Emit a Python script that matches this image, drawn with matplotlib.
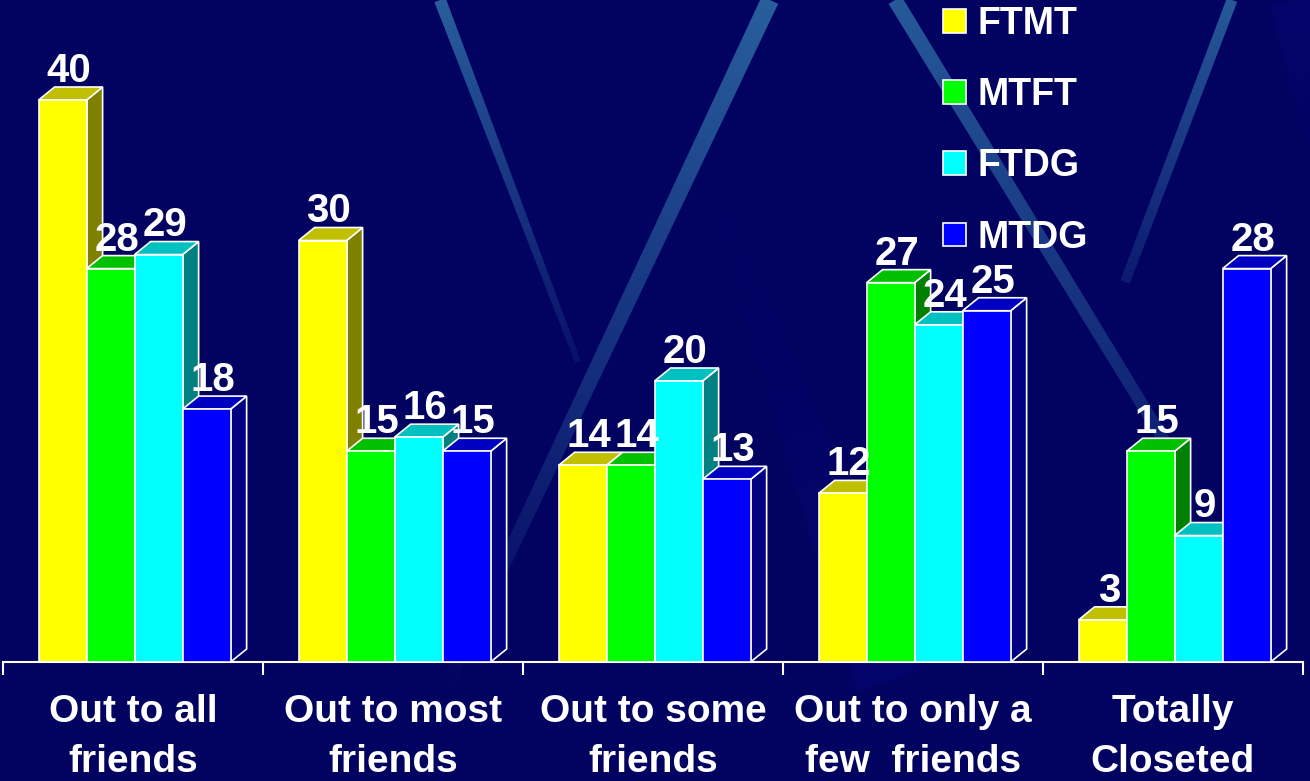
import numpy as np
import matplotlib
matplotlib.use("Agg")
import matplotlib.pyplot as plt
from matplotlib.patches import Polygon, Rectangle
from matplotlib.colors import to_rgb

# data
categories = ["Out to all\nfriends", "Out to most\nfriends", "Out to some\nfriends",
              "Out to only a\nfew  friends", "Totally\nCloseted"]
series = ["FTMT", "MTFT", "FTDG", "MTDG"]
ftmt = [40, 30, 14, 12, 3]
mtft = [28, 15, 14, 27, 15]
ftdg = [29, 16, 20, 24, 9]
mtdg = [18, 15, 13, 25, 28]
values = [ftmt, mtft, ftdg, mtdg]

front_cols = ["#ffff00", "#00ff00", "#00ffff", "#0000ff"]
top_cols = ["#c0c000", "#00c000", "#00c0c0", "#0000c0"]
side_cols = ["#808000", "#008000", "#008080", "#000080"]

W, H = 1310, 781
BG = "#020260"
plt.rcParams["font.family"] = ["Liberation Sans", "DejaVu Sans"]
plt.rcParams["font.weight"] = "bold"

fig = plt.figure(figsize=(W / 100, H / 100), dpi=100, facecolor=BG)

# background with light streaks (pixel coordinates)
bg = fig.add_axes([0, 0, 1, 1], zorder=0)
bg.set_facecolor(BG)
bg.axis("off")


def streak(p0, p1, w0, w1, a0, a1, color="#2b64a0"):
    p0 = np.array(p0, float)
    p1 = np.array(p1, float)
    d = p1 - p0
    L = np.hypot(*d)
    u = d / L
    n = np.array([-u[1], u[0]])
    quad = np.array([p0 + n * w0 / 2, p1 + n * w1 / 2, p1 - n * w1 / 2, p0 - n * w0 / 2])
    poly = Polygon(quad, closed=True, facecolor="none", edgecolor="none")
    bg.add_patch(poly)
    xmin, ymin = quad.min(axis=0) - 2
    xmax, ymax = quad.max(axis=0) + 2
    xs = np.linspace(xmin, xmax, 200)
    ys = np.linspace(ymin, ymax, 400)
    X, Y = np.meshgrid(xs, ys)
    t = np.clip(((X - p0[0]) * u[0] + (Y - p0[1]) * u[1]) / L, 0, 1)
    img = np.zeros(X.shape + (4,))
    img[..., :3] = to_rgb(color)
    img[..., 3] = a0 + (a1 - a0) * t
    im = bg.imshow(img, extent=(xmin, xmax, ymax, ymin), origin="upper",
                   aspect="auto", interpolation="bilinear")
    im.set_clip_path(poly)


# faint wide wedges
streak((690, 120), (890, 680), 10, 70, 0.0, 0.3, color="#08088a")
streak((1300, 0), (1330, 220), 60, 10, 0.3, 0.0, color="#08088a")
# bright streaks
streak((440, 0), (578, 362), 12, 6, 0.95, 0.15)
streak((770, 0), (440, 700), 18, 12, 0.95, 0.0)
streak((895, 0), (1170, 450), 15, 12, 0.9, 0.3)
streak((1232, 0), (1125, 282), 11, 10, 0.9, 0.25)
bg.set_xlim(0, W)
bg.set_ylim(H, 0)

# main chart axes
base_px = 662
px_per_unit = 14.05
ax = fig.add_axes([3 / W, (H - base_px) / H, 1300 / W, base_px / H], zorder=1)
ax.set_facecolor("none")
ax.set_xlim(0, 5)
ax.set_ylim(0, base_px / px_per_unit)

bw = 48 / 260
x_start = 0.137
dx = 16 / 260
dy = 13 / px_per_unit

z = 2
for g in range(len(categories)):
    for i in range(len(series)):
        v = values[i][g]
        x0 = g + x_start + i * bw
        side = Polygon([(x0 + bw, 0), (x0 + bw + dx, dy), (x0 + bw + dx, v + dy), (x0 + bw, v)],
                       closed=True, facecolor=side_cols[i], edgecolor="white", lw=1.2, zorder=z)
        top = Polygon([(x0, v), (x0 + bw, v), (x0 + bw + dx, v + dy), (x0 + dx, v + dy)],
                      closed=True, facecolor=top_cols[i], edgecolor="white", lw=1.2, zorder=z)
        ax.add_patch(side)
        ax.add_patch(top)
        ax.bar(x0, v, width=bw, align="edge", color=front_cols[i], edgecolor="white",
               linewidth=1.2, zorder=z + 0.5)
        ax.annotate(str(v), xy=(x0 + bw / 2, v), xytext=(4.5, 13), textcoords="offset points",
                    ha="center", va="baseline", color="white", fontsize=29,
                    fontweight="bold", zorder=50)
        z += 1

# axis line and ticks
for s in ["top", "left", "right"]:
    ax.spines[s].set_visible(False)
ax.spines["bottom"].set_color("white")
ax.spines["bottom"].set_linewidth(1.5)
ax.set_yticks([])
ax.set_xticks(range(6))
ax.set_xticklabels([])
ax.tick_params(axis="x", which="major", direction="out", length=9, width=1.5, color="white")
ax.set_xticks(np.arange(len(categories)) + 0.5, minor=True)
ax.set_xticklabels(categories, minor=True, color="white", fontsize=28,
                   fontweight="bold", linespacing=1.5)
ax.tick_params(axis="x", which="minor", length=0, pad=23)

# legend
handles = [Rectangle((0, 0), 1, 1, facecolor=c, edgecolor="white", lw=1.2) for c in front_cols]
leg = fig.legend(handles, series, loc="upper left", bbox_to_anchor=(943 / W, 1 - 6 / H),
                 frameon=False, fontsize=27, labelcolor="white", handlelength=0.6,
                 handleheight=0.6, handletextpad=0.32, labelspacing=0.94, borderpad=0,
                 borderaxespad=0)
for t in leg.get_texts():
    t.set_fontweight("bold")

fig.savefig("out.png", dpi=100, facecolor=BG)
